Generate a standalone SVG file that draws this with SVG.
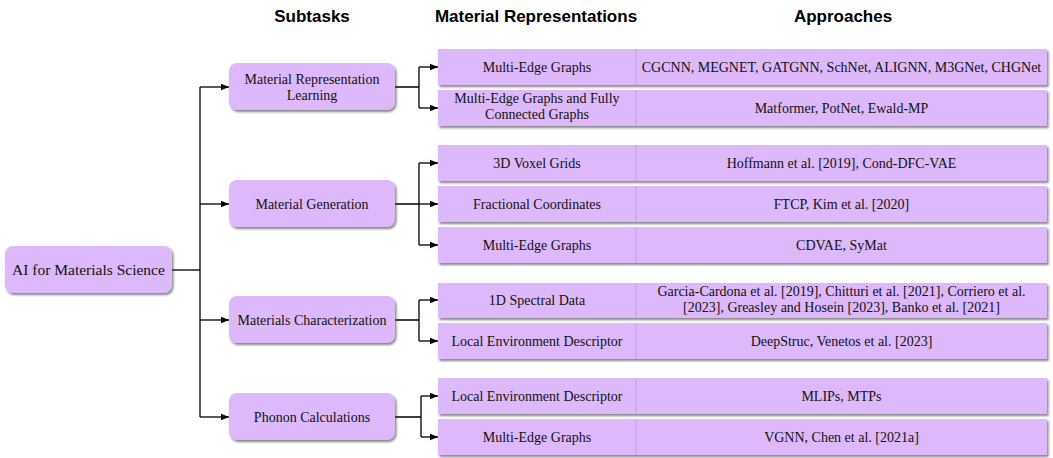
<svg xmlns="http://www.w3.org/2000/svg" width="1053" height="458" viewBox="0 0 1053 458">
<defs>
<filter id="sh" x="-10%" y="-20%" width="120%" height="160%">
<feDropShadow dx="1.5" dy="2" stdDeviation="1.2" flood-color="#333" flood-opacity="0.6"/>
</filter>
<marker id="ah" viewBox="0 0 10 10" refX="10" refY="5" markerWidth="8" markerHeight="8" markerUnits="userSpaceOnUse" orient="auto">
<path d="M0,1 L10,5 L0,9 z" fill="#000"/>
</marker>
<style>
.hd{font-family:"Liberation Sans",Arial,Helvetica,sans-serif;font-weight:bold;font-size:17px;fill:#000;text-anchor:middle}
.t{font-family:"Liberation Serif","Times New Roman",serif;font-size:14px;fill:#111;text-anchor:middle}
.tr{font-size:15.5px}
.nd{fill:#DDB9FB;filter:url(#sh)}
.dv{stroke:#C3A3DE;stroke-width:1}
.cn{fill:none;stroke:#000;stroke-width:1.3}
.ar{marker-end:url(#ah)}
</style>
</defs>
<g id="headers">
<text class="hd" x="312" y="22">Subtasks</text>
<text class="hd" x="536" y="22">Material Representations</text>
<text class="hd" x="843" y="22">Approaches</text>
</g>
<g id="connectors">
<path class="cn" d="M172,270 H200"/>
<path class="cn" d="M200,87 V417"/>
<path class="cn ar" d="M200,87 H229"/>
<path class="cn ar" d="M200,204 H229"/>
<path class="cn ar" d="M200,320 H229"/>
<path class="cn ar" d="M200,417 H229"/>
<path class="cn" d="M395,87 H419 M419,67 V108"/>
<path class="cn ar" d="M419,67 H438"/>
<path class="cn ar" d="M419,108 H438"/>
<path class="cn" d="M395,204 H419 M419,163 V245"/>
<path class="cn ar" d="M419,163 H438"/>
<path class="cn ar" d="M419,204 H438"/>
<path class="cn ar" d="M419,245 H438"/>
<path class="cn" d="M395,320 H419 M419,300 V341"/>
<path class="cn ar" d="M419,300 H438"/>
<path class="cn ar" d="M419,341 H438"/>
<path class="cn" d="M395,417 H421 M421,396 V437"/>
<path class="cn ar" d="M421,396 H438"/>
<path class="cn ar" d="M421,437 H438"/>
</g>
<g id="root">
<rect class="nd" x="5" y="246" width="167" height="47" rx="8"/>
<text class="t tr" x="88.5" y="275">AI for Materials Science</text>
</g>
<g id="sub-mrl">
<rect class="nd" x="229" y="63" width="166" height="47" rx="8"/>
<text class="t" x="312" y="84">Material Representation</text>
<text class="t" x="312" y="100">Learning</text>
</g>
<g id="sub-mg">
<rect class="nd" x="229" y="180" width="166" height="47" rx="8"/>
<text class="t" x="312" y="208.5">Material Generation</text>
</g>
<g id="sub-mc">
<rect class="nd" x="229" y="296" width="166" height="47" rx="8"/>
<text class="t" x="312" y="324.5">Materials Characterization</text>
</g>
<g id="sub-ph">
<rect class="nd" x="229" y="393" width="166" height="47" rx="8"/>
<text class="t" x="312" y="421.5">Phonon Calculations</text>
</g>
<g id="row-mrl-1">
<rect class="nd" x="438" y="49" width="609" height="36"/>
<line class="dv" x1="636" y1="49" x2="636" y2="85"/>
<text class="t" x="537" y="71.5">Multi-Edge Graphs</text>
<text class="t" x="841.5" y="71.5">CGCNN, MEGNET, GATGNN, SchNet, ALIGNN, M3GNet, CHGNet</text>
</g>
<g id="row-mrl-2">
<rect class="nd" x="438" y="90" width="609" height="36"/>
<line class="dv" x1="636" y1="90" x2="636" y2="126"/>
<text class="t" x="537" y="103">Multi-Edge Graphs and Fully</text>
<text class="t" x="537" y="119">Connected Graphs</text>
<text class="t" x="841.5" y="112.5">Matformer, PotNet, Ewald-MP</text>
</g>
<g id="row-mg-1">
<rect class="nd" x="438" y="145" width="609" height="36"/>
<line class="dv" x1="636" y1="145" x2="636" y2="181"/>
<text class="t" x="537" y="167.5">3D Voxel Grids</text>
<text class="t" x="841.5" y="167.5">Hoffmann et al. [2019], Cond-DFC-VAE</text>
</g>
<g id="row-mg-2">
<rect class="nd" x="438" y="186" width="609" height="36"/>
<line class="dv" x1="636" y1="186" x2="636" y2="222"/>
<text class="t" x="537" y="208.5">Fractional Coordinates</text>
<text class="t" x="841.5" y="208.5">FTCP, Kim et al. [2020]</text>
</g>
<g id="row-mg-3">
<rect class="nd" x="438" y="227" width="609" height="36"/>
<line class="dv" x1="636" y1="227" x2="636" y2="263"/>
<text class="t" x="537" y="249.5">Multi-Edge Graphs</text>
<text class="t" x="841.5" y="249.5">CDVAE, SyMat</text>
</g>
<g id="row-mc-1">
<rect class="nd" x="438" y="283" width="609" height="35"/>
<line class="dv" x1="636" y1="283" x2="636" y2="318"/>
<text class="t" x="537" y="305">1D Spectral Data</text>
<text class="t" x="841.5" y="296">Garcia-Cardona et al. [2019], Chitturi et al. [2021], Corriero et al.</text>
<text class="t" x="841.5" y="312">[2023], Greasley and Hosein [2023], Banko et al. [2021]</text>
</g>
<g id="row-mc-2">
<rect class="nd" x="438" y="323" width="609" height="36"/>
<line class="dv" x1="636" y1="323" x2="636" y2="359"/>
<text class="t" x="537" y="345.5">Local Environment Descriptor</text>
<text class="t" x="841.5" y="345.5">DeepStruc, Venetos et al. [2023]</text>
</g>
<g id="row-ph-1">
<rect class="nd" x="438" y="378" width="609" height="36"/>
<line class="dv" x1="636" y1="378" x2="636" y2="414"/>
<text class="t" x="537" y="400.5">Local Environment Descriptor</text>
<text class="t" x="841.5" y="400.5">MLIPs, MTPs</text>
</g>
<g id="row-ph-2">
<rect class="nd" x="438" y="419" width="609" height="36"/>
<line class="dv" x1="636" y1="419" x2="636" y2="455"/>
<text class="t" x="537" y="441.5">Multi-Edge Graphs</text>
<text class="t" x="841.5" y="441.5">VGNN, Chen et al. [2021a]</text>
</g>
</svg>
